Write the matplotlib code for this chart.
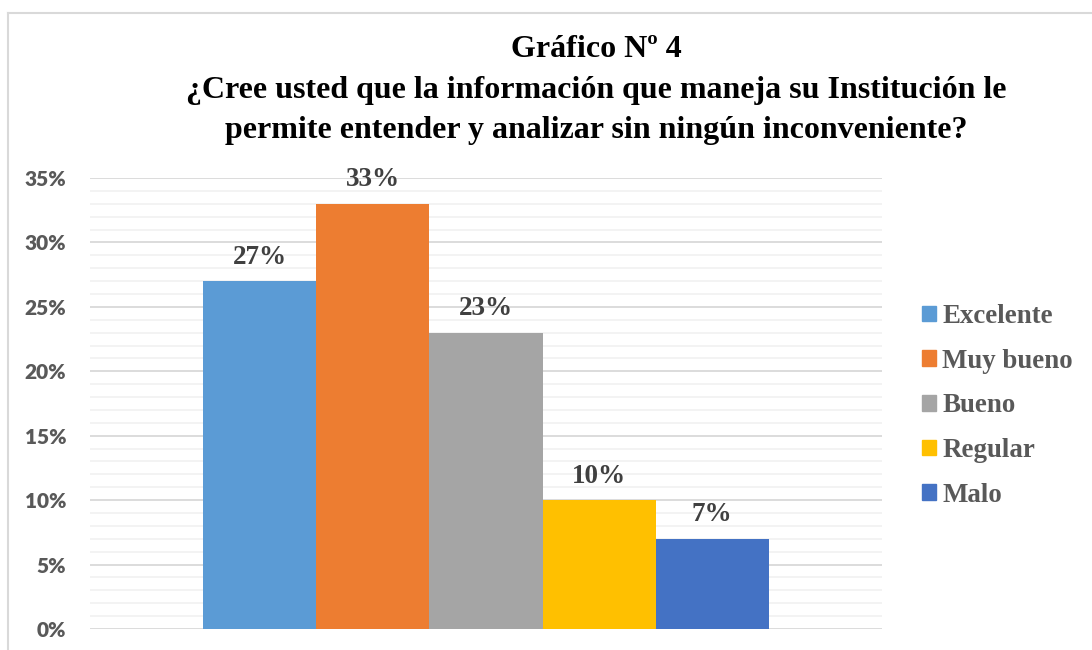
import matplotlib
matplotlib.use("Agg")
import matplotlib.pyplot as plt
from matplotlib.lines import Line2D
from matplotlib.ticker import MultipleLocator, PercentFormatter

categories = ["Excelente", "Muy bueno", "Bueno", "Regular", "Malo"]
values = [0.27, 0.33, 0.23, 0.10, 0.07]
labels = ["27%", "33%", "23%", "10%", "7%"]
colors = ["#5B9BD5", "#ED7D31", "#A5A5A5", "#FFC000", "#4472C4"]
title = "Gráfico Nº 4\n¿Cree usted que la información que maneja su Institución le\npermite entender y analizar sin ningún inconveniente?"

fig = plt.figure(figsize=(10.92, 6.5), dpi=100)
ax = fig.add_axes([90/1092, 1-629/650, 792/1092, 451/650])

bw = 0.1427
n = len(values)
xs = [(i - (n-1)/2) * bw for i in range(n)]
bars = ax.bar(xs, values, width=bw, color=colors, label=categories, zorder=3)
for x, v, t in zip(xs, values, labels):
    ax.text(x, v + 0.0135, t, ha="center", va="baseline", family="Liberation Serif",
            fontweight="bold", fontsize=19.5, color="#404040", zorder=4)

ax.set_xlim(-0.5, 0.5)
ax.set_ylim(0, 0.35)
ax.yaxis.set_major_locator(MultipleLocator(0.05))
ax.yaxis.set_minor_locator(MultipleLocator(0.01))
ax.yaxis.set_major_formatter(PercentFormatter(1.0, decimals=0))
ax.grid(axis="y", which="major", color="#D9D9D9", linewidth=1.3, zorder=0)
ax.grid(axis="y", which="minor", color="#F2F2F2", linewidth=1.3, zorder=0)
ax.set_xticks([])
for s in ax.spines.values():
    s.set_visible(False)
ax.tick_params(axis="y", which="both", length=0, pad=17)
for lab in ax.get_yticklabels():
    lab.set_fontfamily("Lato")
    lab.set_fontweight("heavy")
    lab.set_fontsize(15)
    lab.set_color("#595959")

fig.text(0.546, 1-35/650, title, ha="center", va="top", family="Liberation Serif",
         fontweight="bold", fontsize=23, color="black", linespacing=1.53)

handles = [plt.Rectangle((0, 0), 1, 1, color=c) for c in colors]
leg = fig.legend(handles, categories, loc="center left", bbox_to_anchor=(898/1092, 1-406/650),
                 frameon=False, handlelength=0.52, handleheight=0.52, handletextpad=0.22,
                 labelspacing=0.73, prop={"family": "Liberation Serif", "weight": "bold", "size": 19.4})
for t in leg.get_texts():
    t.set_color("#595959")

fig.add_artist(Line2D([8/1092, 8/1092], [0, 1-13/650], color="#D9D9D9", linewidth=1.5))
fig.add_artist(Line2D([8/1092, 1], [1-13/650, 1-13/650], color="#D9D9D9", linewidth=1.5))

fig.savefig("out.png", dpi=100)
